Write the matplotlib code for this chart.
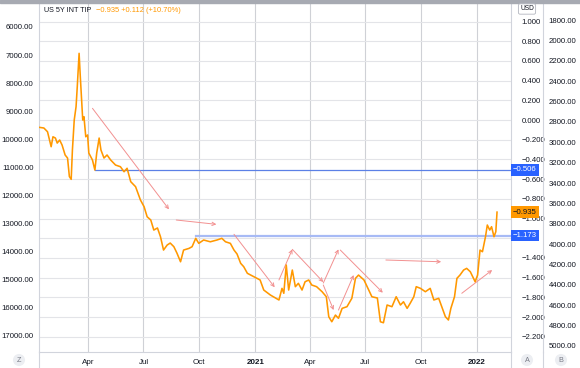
import matplotlib.pyplot as plt
import matplotlib.transforms as mtransforms
from matplotlib.lines import Line2D
from matplotlib.patches import Rectangle
import pandas as pd

plt.rcParams['font.family'] = ['Liberation Sans', 'DejaVu Sans']

# US 5Y INT TIP
dates = [
    '2020-01-11', '2020-01-19', '2020-01-25', '2020-01-31', '2020-02-03', '2020-02-07',
    '2020-02-10', '2020-02-14', '2020-02-18', '2020-02-23', '2020-02-27', '2020-03-01',
    '2020-03-04', '2020-03-06', '2020-03-09', '2020-03-12', '2020-03-14', '2020-03-17',
    '2020-03-19', '2020-03-23', '2020-03-25', '2020-03-28', '2020-03-31', '2020-04-02',
    '2020-04-08', '2020-04-12', '2020-04-15', '2020-04-19', '2020-04-22', '2020-04-27',
    '2020-05-02', '2020-05-08', '2020-05-16', '2020-05-24', '2020-05-30', '2020-06-04',
    '2020-06-10', '2020-06-18', '2020-06-26', '2020-07-02', '2020-07-07', '2020-07-13',
    '2020-07-18', '2020-07-24', '2020-07-29', '2020-08-03', '2020-08-09', '2020-08-14',
    '2020-08-20', '2020-08-25', '2020-08-31', '2020-09-05', '2020-09-14', '2020-09-19',
    '2020-09-25', '2020-09-30', '2020-10-08', '2020-10-19', '2020-10-30', '2020-11-07',
    '2020-11-13', '2020-11-21', '2020-11-27', '2020-12-02', '2020-12-08', '2020-12-13',
    '2020-12-19', '2020-12-30', '2021-01-09', '2021-01-15', '2021-01-26', '2021-02-09',
    '2021-02-14', '2021-02-17', '2021-02-21', '2021-02-25', '2021-03-03', '2021-03-08',
    '2021-03-13', '2021-03-19', '2021-03-24', '2021-03-30', '2021-04-04', '2021-04-12',
    '2021-04-21', '2021-04-28', '2021-05-02', '2021-05-07', '2021-05-13', '2021-05-18',
    '2021-05-24', '2021-06-01', '2021-06-09', '2021-06-15', '2021-06-20', '2021-06-29',
    '2021-07-04', '2021-07-12', '2021-07-21', '2021-07-26', '2021-07-31', '2021-08-06',
    '2021-08-14', '2021-08-21', '2021-08-28', '2021-09-02', '2021-09-08', '2021-09-13',
    '2021-09-19', '2021-09-23', '2021-09-30', '2021-10-08', '2021-10-16', '2021-10-22',
    '2021-10-30', '2021-11-04', '2021-11-10', '2021-11-15', '2021-11-19', '2021-11-25',
    '2021-11-29', '2021-12-04', '2021-12-10', '2021-12-15', '2021-12-21', '2021-12-29',
    '2022-01-02', '2022-01-06', '2022-01-10', '2022-01-15', '2022-01-18', '2022-01-22',
    '2022-01-25', '2022-01-29', '2022-02-01', '2022-02-03',
]
values = [
    -0.074, -0.081, -0.119, -0.271, -0.170, -0.183,
    -0.234, -0.203, -0.254, -0.355, -0.386, -0.574,
    -0.602, -0.305, 0.000, 0.135, 0.338, 0.677,
    0.440, 0.000, 0.034, -0.170, -0.152, -0.335,
    -0.406, -0.508, -0.335, -0.183, -0.305, -0.386,
    -0.355, -0.406, -0.457, -0.474, -0.525, -0.490,
    -0.626, -0.677, -0.812, -0.880, -0.982, -1.015,
    -1.117, -1.096, -1.185, -1.320, -1.269, -1.249,
    -1.286, -1.350, -1.439, -1.320, -1.303, -1.286,
    -1.201, -1.252, -1.218, -1.236, -1.218, -1.201,
    -1.236, -1.252, -1.320, -1.360, -1.455, -1.489,
    -1.556, -1.591, -1.624, -1.726, -1.777, -1.827,
    -1.709, -1.759, -1.472, -1.726, -1.523, -1.692,
    -1.658, -1.726, -1.642, -1.624, -1.675, -1.692,
    -1.743, -1.794, -1.997, -2.048, -1.980, -2.013,
    -1.912, -1.895, -1.810, -1.607, -1.574, -1.624,
    -1.690, -1.794, -1.807, -2.048, -2.058, -1.878,
    -1.895, -1.794, -1.878, -1.845, -1.912, -1.861,
    -1.794, -1.692, -1.709, -1.743, -1.709, -1.827,
    -1.810, -1.895, -1.997, -2.030, -1.912, -1.794,
    -1.607, -1.574, -1.523, -1.506, -1.540, -1.642,
    -1.574, -1.320, -1.337, -1.185, -1.066, -1.117,
    -1.083, -1.185, -1.134, -0.935,
]

right_ticks = [1.0, 0.8, 0.6, 0.4, 0.2, 0.0, -0.2, -0.4, -0.6, -0.8,
               -1.0, -1.2, -1.4, -1.6, -1.8, -2.0, -2.2]
left_ticks = [6000, 7000, 8000, 9000, 10000, 11000, 12000, 13000,
              14000, 15000, 16000, 17000]
far_ticks = [1800, 2000, 2200, 2400, 2600, 2800, 3000, 3200, 3400,
             3600, 3800, 4000, 4200, 4400, 4600, 4800, 5000]

level_values = [-0.506, -1.173]
level_starts = ['2020-04-12', '2020-09-25']
level_colors = ['#5b80e6', '#a7baf5']
level_widths = [0.9, 1.6]

arrow_d0 = ['2020-04-08', '2020-08-24', '2020-11-27', '2021-02-09', '2021-03-03',
            '2021-04-23', '2021-04-23', '2021-05-18', '2021-05-21', '2021-08-04',
            '2021-12-07']
arrow_v0 = [0.119, -1.015, -1.160, -1.624, -1.313, -1.675, -1.655, -1.929, -1.320,
            -1.421, -1.759]
arrow_d1 = ['2020-08-12', '2020-10-29', '2021-02-02', '2021-03-03', '2021-04-23',
            '2021-05-10', '2021-05-18', '2021-06-12', '2021-07-30', '2021-11-03',
            '2022-01-26']
arrow_v1 = [-0.907, -1.059, -1.698, -1.313, -1.645, -1.929, -1.313, -1.574, -1.753,
            -1.439, -1.523]

W, H = 580, 368
fig = plt.figure(figsize=(W / 100, H / 100), dpi=100)
ax = fig.add_axes([39 / W, 1 - 352 / H, 472 / W, 349 / H])

# left scale and far right scale (twinx moves ax ticks, so fix ax afterwards)
axl = ax.twinx()
axr = ax.twinx()

x = pd.to_datetime(dates)
ax.plot(x, values, color='#ff9800', lw=1.15, zorder=3)

for v, s, c, w in zip(level_values, level_starts, level_colors, level_widths):
    ax.plot([pd.Timestamp(s), pd.Timestamp('2022-03-10')], [v, v], color=c, lw=w, zorder=2)

for d0, v0, d1, v1 in zip(arrow_d0, arrow_v0, arrow_d1, arrow_v1):
    ax.annotate('', xy=(pd.Timestamp(d1), v1), xytext=(pd.Timestamp(d0), v0),
                arrowprops=dict(arrowstyle='->', color='#f29090', lw=0.7,
                                shrinkA=0, shrinkB=0, mutation_scale=6), zorder=2)

ax.set_xlim(pd.Timestamp('2020-01-11'), pd.Timestamp('2022-02-26'))
ax.set_ylim(-2.355, 1.188)

xt = pd.date_range('2020-04-01', '2022-01-01', freq='QS')
ax.set_xticks(xt)
ax.set_xticklabels([str(d.year) if d.month == 1 else d.strftime('%b') for d in xt],
                   fontsize=5.8, color='#131722')
for lab, d in zip(ax.get_xticklabels(), xt):
    if d.month == 1:
        lab.set_fontweight('bold')

# the -1.200 label sits under the -1.173 tag in the original
ax.yaxis.tick_right()
ax.set_yticks(right_ticks)
ax.set_yticklabels(['' if abs(v + 1.2) < 1e-9 else f'{v:.3f}'.replace('-', '\u2212')
                    for v in right_ticks], fontsize=5.6, color='#131722')
ax.tick_params(axis='y', left=False, labelleft=False, right=False, labelright=True, pad=4)
ax.tick_params(axis='x', length=0, pad=5)
ax.grid(axis='y', color='#e3e4e8', lw=0.8)
ax.grid(axis='x', color='#cfd1d6', lw=0.8)
ax.set_axisbelow(True)
for side in ['left', 'right', 'bottom']:
    ax.spines[side].set_color('#d1d4dc')
    ax.spines[side].set_linewidth(0.8)
ax.spines['top'].set_visible(False)

axl.yaxis.tick_left()
axl.set_ylim(17570, 5146)
axl.set_yticks(left_ticks)
axl.set_yticklabels([f'{v:.2f}' for v in left_ticks], fontsize=5.6, color='#131722')
axl.tick_params(axis='y', length=0, pad=4)
for s in axl.spines.values():
    s.set_visible(False)

axr.spines['right'].set_position(('axes', 504 / 472))
axr.set_ylim(5059, 1633)
axr.set_yticks(far_ticks)
axr.set_yticklabels([f'{v:.2f}' for v in far_ticks], fontsize=5.6, color='#131722')
axr.tick_params(axis='y', length=0, pad=4)
for side in ['left', 'top', 'bottom']:
    axr.spines[side].set_visible(False)
axr.spines['right'].set_color('#d1d4dc')
axr.spines['right'].set_linewidth(0.8)

# price labels on the right scale
trans = mtransforms.blended_transform_factory(ax.transAxes, ax.transData)
tags = level_values + [values[-1]]
tag_colors = ['#2962ff', '#2962ff', '#ff9800']
tag_text = ['white', 'white', '#131722']
for v, fc, tc in zip(tags, tag_colors, tag_text):
    ax.text(1.004, v, f'{v:.3f}'.replace('-', '\u2212'), transform=trans,
            fontsize=5.6, color=tc, va='center', ha='left', clip_on=False, zorder=6,
            bbox=dict(boxstyle='square,pad=0.3', fc=fc, ec='none'))

# frame pieces
fig.patches.append(Rectangle((0, 1 - 3 / H), 1, 3 / H, transform=fig.transFigure,
                             color='#a7aab2'))
for px in [39, 511, 543]:
    fig.lines.append(Line2D([px / W, px / W], [0, 1 - 352 / H], transform=fig.transFigure,
                            color='#d1d4dc', lw=0.8))

fig.text(44 / W, 1 - 10 / H, 'US 5Y INT TIP', fontsize=5.2, color='#131722', va='center')
fig.text(96 / W, 1 - 10 / H, '\u22120.935 +0.112 (+10.70%)', fontsize=5.4,
         color='#ff9800', va='center')
fig.text(527 / W, 1 - 9 / H, 'USD', fontsize=4.8, color='#131722', ha='center',
         va='center', bbox=dict(boxstyle='round,pad=0.25', fc='white', ec='#b2b5be', lw=0.6))

for px, t in [(19, 'Z'), (527, 'A'), (561, 'B')]:
    fig.text(px / W, 1 - 360 / H, t, fontsize=5.2, color='#787b86', ha='center',
             va='center', bbox=dict(boxstyle='circle,pad=0.35', fc='#eceef2', ec='none'))

fig.savefig('out.png', dpi=100)
